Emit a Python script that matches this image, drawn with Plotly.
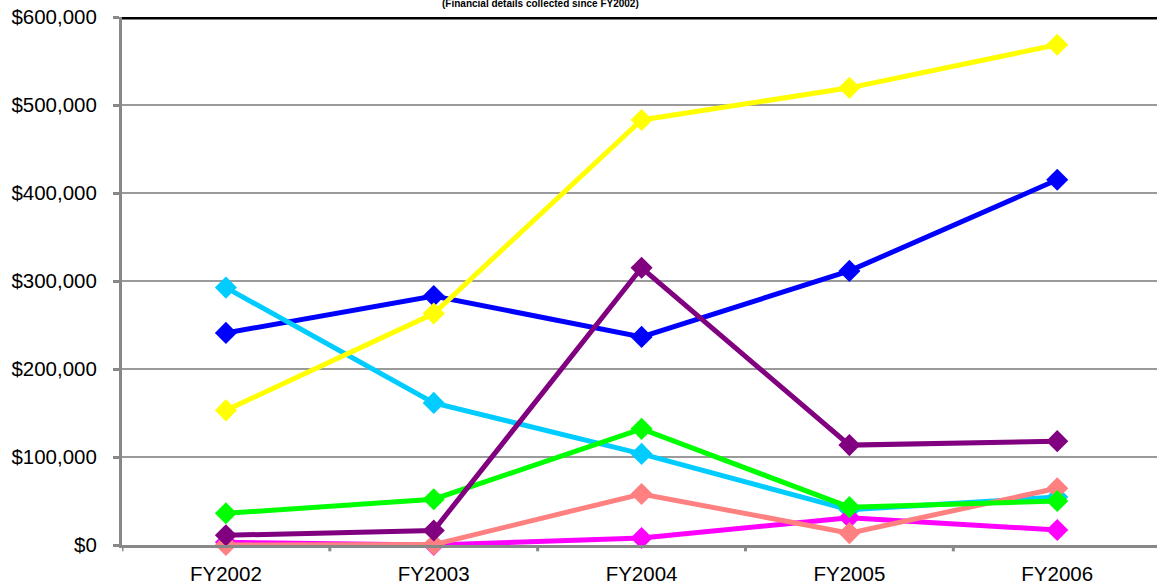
import plotly.graph_objects as go

categories = ["FY2002", "FY2003", "FY2004", "FY2005", "FY2006"]

blue_vals = [241000, 283000, 236500, 311500, 415000]
cyan_vals = [292500, 161500, 103500, 40000, 54500]
magenta_vals = [3000, 0, 8000, 31000, 17000]
yellow_vals = [153000, 263000, 483000, 519500, 568500]
salmon_vals = [0, 500, 58000, 13500, 64500]
green_vals = [36000, 52000, 132000, 43000, 50000]
purple_vals = [11000, 16500, 315000, 113500, 118000]

series = [
    ("Series 1", blue_vals, "#0000FF"),
    ("Series 2", cyan_vals, "#00CCFF"),
    ("Series 3", magenta_vals, "#FF00FF"),
    ("Series 4", yellow_vals, "#FFFF00"),
    ("Series 5", salmon_vals, "#FF8080"),
    ("Series 6", green_vals, "#00FF00"),
    ("Series 7", purple_vals, "#800080"),
]

y_ticks = [0, 100000, 200000, 300000, 400000, 500000, 600000]
y_tick_labels = ["$0", "$100,000", "$200,000", "$300,000", "$400,000", "$500,000", "$600,000"]

fig = go.Figure()
for name, vals, color in series:
    fig.add_trace(go.Scatter(
        x=list(range(len(categories))), y=vals, name=name, mode="lines+markers",
        line=dict(color=color, width=5),
        marker=dict(symbol="diamond", size=17, color=color),
        cliponaxis=False,
    ))

fig.add_shape(type="line", xref="paper", yref="y", x0=0, x1=1, y0=600000, y1=600000,
              line=dict(color="black", width=5), layer="above")

fig.add_annotation(text="<b>(Financial details collected since FY2002)</b>", xref="paper", yref="paper",
                   x=(540 - 122) / (1157 - 122), y=1, xanchor="center", yanchor="middle", yshift=14,
                   showarrow=False, font=dict(family="Arial, Liberation Sans", size=10, color="black"))

fig.update_layout(
    width=1157, height=588,
    margin=dict(l=122, r=0, t=17, b=43),
    paper_bgcolor="white", plot_bgcolor="white",
    showlegend=False,
    font=dict(family="Arial, Liberation Sans", color="black"),
    xaxis=dict(
        tickmode="array", tickvals=list(range(len(categories))), ticktext=categories,
        range=[-0.5, 4.48], showgrid=False, zeroline=False,
        showline=True, linecolor="#888888", linewidth=3,
        tickfont=dict(size=20.5), ticklabelstandoff=8,
    ),
    yaxis=dict(
        range=[0, 600000], tickvals=y_ticks, ticktext=y_tick_labels,
        showgrid=True, gridcolor="#9a9a9a", gridwidth=2, zeroline=False,
        showline=True, linecolor="#888888", linewidth=3,
        ticks="outside", ticklen=6, tickwidth=3, tickcolor="#888888",
        tickfont=dict(size=20.5), ticklabelstandoff=12,
    ),
)

# boundary ticks on x axis
for b in [-0.5, 0.5, 1.5, 2.5, 3.5]:
    fig.add_shape(type="line", xref="x", yref="paper", x0=b, x1=b, y0=0, y1=-0.012,
                  line=dict(color="#888888", width=3))

fig.write_html("out.html")
